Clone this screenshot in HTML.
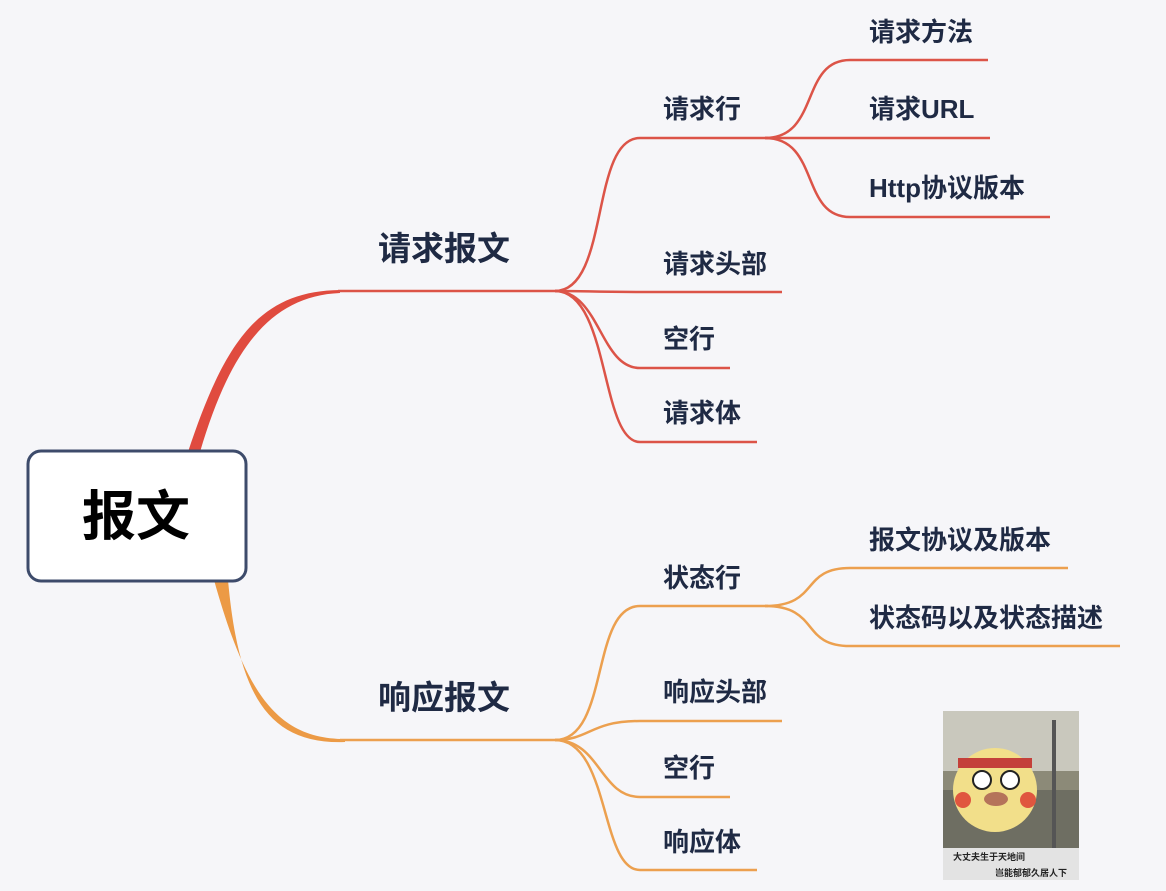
<!DOCTYPE html>
<html><head><meta charset="utf-8"><style>
html,body{margin:0;padding:0;background:#f6f6f9;}
svg{display:block}
text{font-family:"Liberation Sans","Noto Sans CJK SC",sans-serif;font-weight:bold;fill:#1f2a44}
</style></head><body>
<svg width="1166" height="891" viewBox="0 0 1166 891" xmlns="http://www.w3.org/2000/svg">
<rect width="1166" height="891" fill="#f6f6f9"/>
<!-- red trunk -->
<path d="M188,452 C225,340 260,291 340,290 L340,293 C270,296 230,350 200,452 Z" fill="#e04b3f"/>
<g fill="none" stroke="#dc5448" stroke-width="2.5">
<path d="M338,291 L560,291"/>
<path d="M555,291 C610,291 590,138 640,138 L768,138"/>
<path d="M555,291 C590,291 590,292 640,292 L782,292"/>
<path d="M555,291 C600,291 600,368 640,368 L730,368"/>
<path d="M555,291 C610,291 600,442 640,442 L757,442"/>
<path d="M765,138 C820,138 800,60 850,60 L988,60"/>
<path d="M765,138 L990,138"/>
<path d="M765,138 C820,138 800,217 850,217 L1050,217"/>
</g>
<!-- orange trunk -->
<path d="M214,580 C245,690 275,739 345,739 L345,742 C265,745 238,690 228,580 Z" fill="#ec9a45"/>
<g fill="none" stroke="#eca04f" stroke-width="2.5">
<path d="M340,740 L560,740"/>
<path d="M555,740 C610,740 590,606 640,606 L768,606"/>
<path d="M555,740 C590,740 590,721 640,721 L782,721"/>
<path d="M555,740 C600,740 600,797 640,797 L730,797"/>
<path d="M555,740 C610,740 600,870 640,870 L757,870"/>
<path d="M765,606 C820,606 800,568 850,568 L1068,568"/>
<path d="M765,606 C820,606 800,646 850,646 L1120,646"/>
</g>
<!-- root -->
<rect x="28" y="451" width="218" height="130" rx="13" fill="#fff" stroke="#3d4b6b" stroke-width="3"/>
<text x="136" y="535" font-size="54" text-anchor="middle" style="fill:#000">报文</text>
<text x="378" y="260" font-size="33">请求报文</text>
<text x="378" y="709" font-size="33">响应报文</text>
<g font-size="26">
<text x="663" y="118">请求行</text>
<text x="663" y="273">请求头部</text>
<text x="663" y="348">空行</text>
<text x="663" y="422">请求体</text>
<text x="869" y="41">请求方法</text>
<text x="869" y="118">请求URL</text>
<text x="869" y="197">Http协议版本</text>
<text x="663" y="587">状态行</text>
<text x="663" y="701">响应头部</text>
<text x="663" y="777">空行</text>
<text x="663" y="851">响应体</text>
<text x="869" y="549">报文协议及版本</text>
<text x="869" y="627">状态码以及状态描述</text>
</g>
<!-- meme -->
<g>
<rect x="943" y="711" width="136" height="169" fill="#8c8a78"/>
<rect x="943" y="711" width="136" height="60" fill="#c9c8bd"/>
<rect x="943" y="790" width="136" height="58" fill="#6e6e62"/>
<circle cx="995" cy="790" r="42" fill="#f2df8a"/>
<rect x="958" y="758" width="74" height="10" fill="#c4403a"/>
<circle cx="982" cy="780" r="9" fill="#fff" stroke="#222" stroke-width="2"/>
<circle cx="1010" cy="780" r="9" fill="#fff" stroke="#222" stroke-width="2"/>
<circle cx="963" cy="800" r="8" fill="#e0563f"/>
<circle cx="1028" cy="800" r="8" fill="#e0563f"/>
<ellipse cx="996" cy="799" rx="12" ry="7" fill="#b5735a"/>
<rect x="1052" y="720" width="4" height="130" fill="#555"/>
<rect x="943" y="848" width="136" height="32" fill="#e3e3e3"/>
<text x="953" y="860" font-size="9" style="fill:#222">大丈夫生于天地间</text>
<text x="995" y="876" font-size="9" style="fill:#222">岂能郁郁久居人下</text>
</g>
</svg>
</body></html>
